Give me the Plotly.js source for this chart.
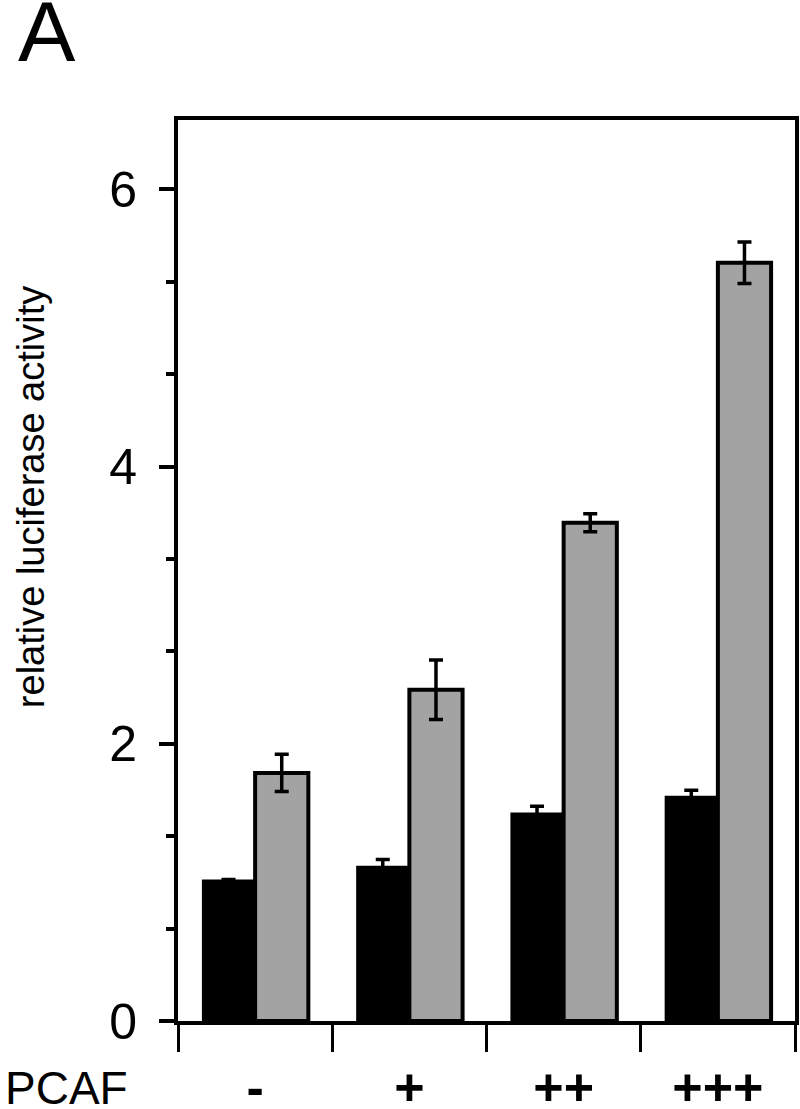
<!DOCTYPE html>
<html>
<head>
<meta charset="utf-8">
<script src="https://cdn.plot.ly/plotly-3.0.1.min.js"></script>
<style>html,body{margin:0;padding:0;background:#fff;}#chart{width:800px;height:1109px;}</style>
</head>
<body>
<div id="chart"></div>
<script>
// PCAF dose categories
var categories = ["-", "+", "++", "+++"];
// black bars (series 1) and their errors
var blackValues = [1.02, 1.12, 1.505, 1.625];
var blackErrors = [0.0, 0.045, 0.045, 0.04];
// gray bars (series 2) and their errors
var grayValues = [1.79, 2.39, 3.595, 5.47];
var grayErrors = [0.135, 0.215, 0.065, 0.15];
// y-axis ticks
var yTickVals = [0, 2, 4, 6];
var yTickText = ["0", "2", "4", "6"];

var FONT = "Liberation Sans, Arial, Helvetica, sans-serif";

var traces = [
  {
    type: "bar", x: categories, y: blackValues, name: "control",
    marker: {color: "#000000", line: {color: "#000000", width: 0}},
    error_y: {type: "data", array: blackErrors, visible: true, color: "#000000", thickness: 3.5, width: 7},
    hoverinfo: "skip"
  },
  {
    type: "bar", x: categories, y: grayValues, name: "treated",
    marker: {color: "#a3a3a3", line: {color: "#000000", width: 4}},
    error_y: {type: "data", array: grayErrors, visible: true, color: "#000000", thickness: 3.5, width: 7},
    hoverinfo: "skip"
  }
];

var layout = {
  width: 800, height: 1109,
  margin: {l: 178, r: 5, t: 120, b: 88},
  paper_bgcolor: "#ffffff", plot_bgcolor: "#ffffff",
  showlegend: false,
  barmode: "group", bargap: 0.31, bargroupgap: 0,
  font: {family: FONT, color: "#000000"},
  xaxis: {
    type: "category", range: [-0.5, 3.5],
    showline: true, linecolor: "#000000", linewidth: 4, mirror: true,
    tickson: "boundaries", ticks: "outside", ticklen: 27, tickwidth: 3, tickcolor: "#000000",
    showgrid: false, zeroline: false,
    tickfont: {family: FONT, size: 52, color: "#000000", weight: "bold"},
    ticklabelstandoff: 18
  },
  yaxis: {
    range: [0, 6.5], tickmode: "array", tickvals: yTickVals, ticktext: yTickText,
    showline: true, linecolor: "#000000", linewidth: 4, mirror: true,
    ticks: "outside", ticklen: 15, tickwidth: 4, tickcolor: "#000000",
    minor: {dtick: 2/3, tick0: 0, ticks: "outside", ticklen: 8, tickwidth: 4, tickcolor: "#000000", showgrid: false},
    showgrid: false, zeroline: false,
    tickfont: {family: FONT, size: 50, color: "#000000"},
    ticklabelstandoff: 12
  },
  annotations: [
    {text: "A", xref: "paper", yref: "paper", x: -0.262, y: 1.043, xanchor: "left", yanchor: "bottom",
     showarrow: false, font: {family: FONT, size: 86, color: "#000000"}},
    {text: "relative luciferase activity", xref: "paper", yref: "paper", x: -0.238, y: 0.5816,
     xanchor: "center", yanchor: "middle", textangle: -90, showarrow: false,
     font: {family: FONT, size: 38, color: "#000000"}},
    {text: "PCAF", xref: "paper", yref: "paper", x: -0.283, y: -0.0744, xanchor: "left", yanchor: "middle",
     showarrow: false, font: {family: FONT, size: 46, color: "#000000"}}
  ]
};

Plotly.newPlot("chart", traces, layout, {staticPlot: true, displayModeBar: false});
</script>
</body>
</html>
